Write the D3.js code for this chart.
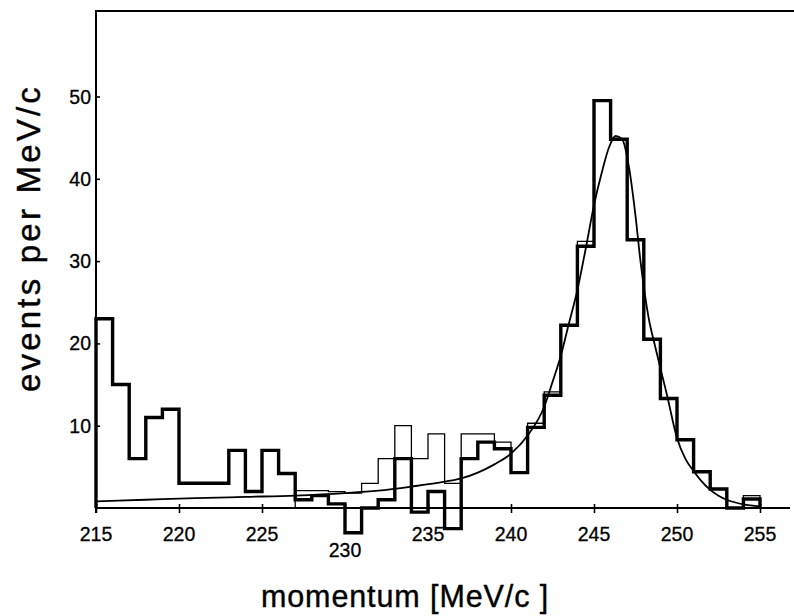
<!DOCTYPE html>
<html>
<head>
<meta charset="utf-8">
<script src="https://cdn.jsdelivr.net/npm/d3@7/dist/d3.min.js"></script>
<style>
  body { margin: 0; background: #fff; }
  svg { display: block; }
</style>
</head>
<body>
<svg id="chart" width="794" height="616"></svg>
<script>
// histogram bins are 1 MeV/c wide, first bin starts at 215
const firstBin = 215;
const thickCounts = [
  23, 15, 6, 11, 12, 3, 3, 3, 7, 2,
  7, 4.2, 1, 1.5, 0.5, -3, 0, 1, 6, -0.5,
  2, -2.5, 6, 8, 7.2, 4.3, 9.8, 13.7, 22.2, 31.8,
  49.5, 44.8, 32.6, 20.5, 13.3, 8.3, 4.4, 2.3, 0, 1.1
];
// second (thin) histogram, only drawn where it departs from the thick one
const thinFirstBin = 227;
const thinCounts = [
  2.1, 2.1, 2.0, 1.8, 3, 6, 10, 6, 9, 3,
  9, 9, 8, 4.3, 10.3, 14.1, 22.2, 32.4, 49.5, 44.8,
  32.6, 20.5, 13.3, 8.3, 4.4, 2.3, 0, 1.5
];
// fitted curve
const fitMomentum = [215, 218, 221, 224, 227, 230, 232, 234, 236, 237, 238, 239, 240, 241, 242,
  242.5, 243, 243.5, 244, 244.5, 245, 245.5, 245.9, 246.3, 246.7, 247.1, 247.5, 247.8,
  248.3, 248.7, 249, 249.4, 250, 250.5, 251, 251.5, 252, 252.5, 253, 254, 255];
const fitEvents = [0.8, 1.0, 1.2, 1.35, 1.5, 1.8, 2.1, 2.6, 3.2, 3.6, 4.3, 5.3, 6.6, 8.8, 12.3,
  15.3, 18.5, 22.5, 26.5, 31.5, 36.8, 41, 43.8, 45.2, 44.8, 41.5, 35.5, 30,
  23, 19.5, 17, 13.7, 8.5, 6, 4.5, 3.2, 2.2, 1.5, 1.0, 0.45, 0.2];

const xTicks = [215, 220, 225, 230, 235, 240, 245, 250, 255];
const yTicks = [10, 20, 30, 40, 50];

const svg = d3.select("#chart");

const x = d3.scaleLinear().domain([215, 255]).range([96, 760]);
const y = d3.scaleLinear().domain([0, 50]).range([508, 96.5]);

const g = svg.append("g");

// frame: left and top lines
g.append("path")
  .attr("d", `M${x(215)},${y(-0.6)} L${x(215)},${y(60.4)} L794,${y(60.4)}`)
  .attr("fill", "none")
  .attr("stroke", "#000")
  .attr("stroke-width", 2);

// x axis
const xAxis = g.append("g")
  .attr("transform", `translate(0,${y(0)})`)
  .call(d3.axisBottom(x).tickValues(xTicks).tickSize(5).tickFormat(""));
xAxis.select(".domain").remove();
xAxis.selectAll(".tick line").attr("y1", -4).attr("stroke-width", 1.6);
xAxis.append("line")
  .attr("x1", x(215)).attr("x2", 790)
  .attr("stroke", "#000").attr("stroke-width", 2);

g.selectAll(".xlabel")
  .data(xTicks)
  .join("text")
  .attr("class", "xlabel")
  .attr("x", d => x(d))
  .attr("y", d => d === 230 ? 557 : 541)
  .attr("text-anchor", "middle")
  .attr("font-family", "Liberation Sans, Arial, sans-serif")
  .attr("font-size", 19.5)
  .attr("stroke", "#000")
  .attr("stroke-width", 0.3)
  .text(d => d);

// y axis ticks + labels
const yAxis = g.append("g")
  .attr("transform", `translate(${x(215)},0)`)
  .call(d3.axisLeft(y).tickValues(yTicks).tickSize(4).tickFormat(""));
yAxis.select(".domain").remove();
yAxis.selectAll(".tick line").attr("x2", 4).attr("stroke-width", 1.6);

g.selectAll(".ylabel")
  .data(yTicks)
  .join("text")
  .attr("class", "ylabel")
  .attr("x", 91)
  .attr("y", d => y(d) + 7)
  .attr("text-anchor", "end")
  .attr("font-family", "Liberation Sans, Arial, sans-serif")
  .attr("font-size", 19.5)
  .attr("stroke", "#000")
  .attr("stroke-width", 0.3)
  .text(d => d);

// step lines
const stepLine = d3.line()
  .x(d => x(d[0]))
  .y(d => y(d[1]))
  .curve(d3.curveStepAfter);

function histPoints(start, counts) {
  const pts = [[start, 0]];
  counts.forEach((c, i) => pts.push([start + i, c]));
  pts.push([start + counts.length, counts[counts.length - 1]]);
  pts.push([start + counts.length, 0]);
  return pts;
}

g.append("path")
  .attr("d", stepLine(histPoints(thinFirstBin, thinCounts)))
  .attr("fill", "none")
  .attr("stroke", "#000")
  .attr("stroke-width", 1.3);

// fit curve
const fitLine = d3.line()
  .x((d, i) => x(fitMomentum[i]))
  .y(d => y(d))
  .curve(d3.curveMonotoneX);

g.append("path")
  .attr("d", fitLine(fitEvents))
  .attr("fill", "none")
  .attr("stroke", "#000")
  .attr("stroke-width", 1.8);

g.append("path")
  .attr("d", stepLine(histPoints(firstBin, thickCounts)))
  .attr("fill", "none")
  .attr("stroke", "#000")
  .attr("stroke-width", 3.4)
  .attr("stroke-linejoin", "miter");

// axis titles
svg.append("text")
  .attr("transform", "translate(40,238) rotate(-90)")
  .attr("text-anchor", "middle")
  .attr("font-family", "Liberation Sans, Arial, sans-serif")
  .attr("font-size", 33)
  .attr("letter-spacing", 3.2)
  .attr("stroke", "#000")
  .attr("stroke-width", 0.4)
  .text("events per MeV/c");

svg.append("text")
  .attr("x", 405)
  .attr("y", 607)
  .attr("text-anchor", "middle")
  .attr("font-family", "Liberation Sans, Arial, sans-serif")
  .attr("font-size", 30.5)
  .attr("letter-spacing", 0.9)
  .attr("stroke", "#000")
  .attr("stroke-width", 0.4)
  .text("momentum [MeV/c ]");
</script>
</body>
</html>
